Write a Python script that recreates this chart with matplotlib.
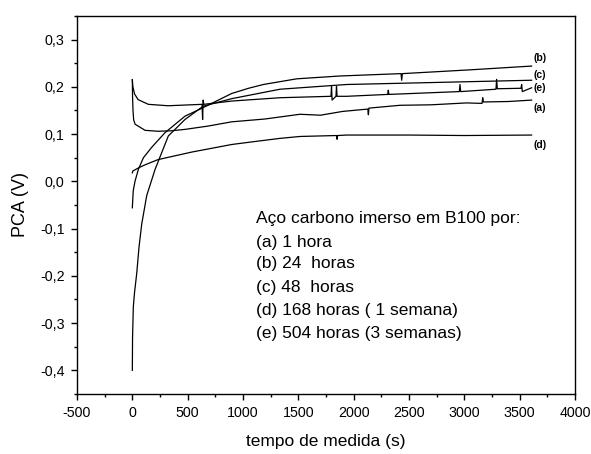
import matplotlib
matplotlib.use("Agg")
import matplotlib.pyplot as plt
from matplotlib.ticker import MultipleLocator, FuncFormatter

plt.rcParams['font.family'] = ['Liberation Sans', 'DejaVu Sans']

# curvas de potencial de circuito aberto (t em s, PCA em V)
t_a = [0, 2, 6, 12, 25, 52, 115, 232, 350, 476, 684, 898, 1200, 1515, 1700, 1900,
       2128, 2133, 2138, 2419, 2700, 3021, 3160, 3166, 3172, 3400, 3608]
v_a = [0.215, 0.18, 0.15, 0.13, 0.121, 0.117, 0.108, 0.106, 0.107, 0.11, 0.117, 0.126,
       0.132, 0.142, 0.14, 0.148, 0.153, 0.141, 0.155, 0.161, 0.162, 0.166, 0.165, 0.177,
       0.168, 0.169, 0.172]

t_b = [0, 8, 24, 54, 100, 175, 295, 476, 640, 898, 1050, 1184, 1485, 1876, 2428, 2434,
       2440, 3051, 3608]
v_b = [-0.056, -0.02, 0.0, 0.025, 0.05, 0.072, 0.103, 0.138, 0.156, 0.186, 0.197, 0.205,
       0.217, 0.223, 0.228, 0.214, 0.228, 0.236, 0.244]

t_c = [0, 2, 9, 20, 40, 60, 85, 130, 205, 325, 476, 640, 898, 1335, 1937, 2500, 3051, 3608]
v_c = [-0.4, -0.33, -0.265, -0.235, -0.194, -0.14, -0.09, -0.03, 0.025, 0.096, 0.131,
       0.159, 0.175, 0.195, 0.205, 0.208, 0.211, 0.214]

t_d = [0, 5, 60, 115, 232, 537, 898, 1063, 1335, 1515, 1845, 1850, 1855, 1937, 2500,
       3000, 3608]
v_d = [0.018, 0.022, 0.029, 0.035, 0.046, 0.062, 0.078, 0.083, 0.091, 0.095, 0.097,
       0.089, 0.097, 0.098, 0.098, 0.097, 0.098]

t_e = [0, 5, 20, 52, 145, 323, 630, 635, 640, 645, 900, 1335, 1795, 1800, 1805, 1840,
       1845, 1850, 1937, 2308, 2313, 2318, 2955, 2961, 2967, 3286, 3292, 3298, 3512, 3518,
       3524, 3608]
v_e = [0.215, 0.2, 0.185, 0.173, 0.163, 0.16, 0.163, 0.131, 0.172, 0.163, 0.17, 0.177,
       0.18, 0.201, 0.172, 0.18, 0.201, 0.18, 0.18, 0.184, 0.193, 0.184, 0.19, 0.205, 0.19,
       0.195, 0.216, 0.196, 0.197, 0.205, 0.19, 0.198]

rotulos = ['(a)', '(b)', '(c)', '(d)', '(e)']
y_rotulos = [0.156, 0.262, 0.225, 0.078, 0.198]

legenda = ['Aço carbono imerso em B100 por:', '(a) 1 hora', '(b) 24  horas',
           '(c) 48  horas', '(d) 168 horas ( 1 semana)', '(e) 504 horas (3 semanas)']

fig = plt.figure(figsize=(5.91, 4.54), dpi=100)
ax = fig.add_axes([0.1303, 0.1322, 0.8426, 0.8326])

for t, v in [(t_a, v_a), (t_b, v_b), (t_c, v_c), (t_d, v_d), (t_e, v_e)]:
    ax.plot(t, v, color='black', lw=0.9)

for r, y in zip(rotulos, y_rotulos):
    ax.text(3625, y, r, fontsize=7.5, fontweight='bold', va='center', ha='left')

ys = [0.463, 0.402, 0.344, 0.283, 0.222, 0.161]
for txt, y in zip(legenda, ys):
    ax.text(0.3594, y, txt, transform=ax.transAxes, fontsize=12.5, va='center', ha='left')

ax.set_xlim(-500, 4000)
ax.set_ylim(-0.45, 0.35)
ax.xaxis.set_major_locator(MultipleLocator(500))
ax.xaxis.set_minor_locator(MultipleLocator(250))
ax.yaxis.set_major_locator(MultipleLocator(0.1))
ax.yaxis.set_minor_locator(MultipleLocator(0.05))
ax.yaxis.set_major_formatter(FuncFormatter(lambda v, p: ('%.1f' % v).replace('.', ',').replace('-0,0', '0,0')))
ax.xaxis.set_major_formatter(FuncFormatter(lambda v, p: '%d' % v))
ax.tick_params(which='major', length=4, width=1, labelsize=10.3, pad=5)
ax.tick_params(which='minor', length=2.5, width=1)
for s in ax.spines.values():
    s.set_linewidth(1)

ax.set_xlabel('tempo de medida (s)', fontsize=12.5, labelpad=10)
ax.set_ylabel('PCA (V)', fontsize=13, labelpad=8)

fig.savefig('out.png', dpi=100)
